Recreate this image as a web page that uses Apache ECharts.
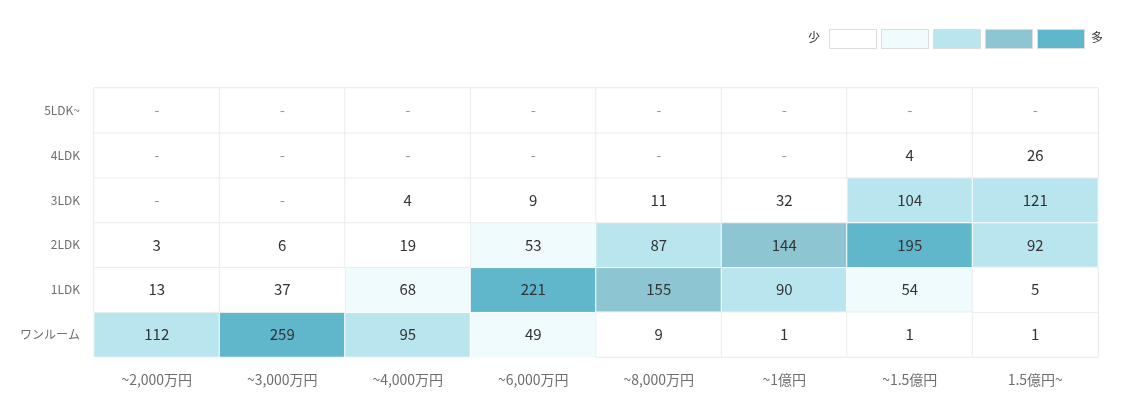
<!DOCTYPE html>
<html><head><meta charset="utf-8">
<script src="https://cdn.jsdelivr.net/npm/echarts@6/dist/echarts.min.js"></script>
<style>html,body{margin:0;padding:0;background:#fff}#c{width:1122px;height:394px}</style>
</head><body><div id="c"></div>
<script>
const xCategories = ['~2,000万円','~3,000万円','~4,000万円','~6,000万円','~8,000万円','~1億円','~1.5億円','1.5億円~'];
const yCategories = ['ワンルーム','1LDK','2LDK','3LDK','4LDK','5LDK~'];
const rowOneRoom = [112, 259, 95, 49, 9, 1, 1, 1];
const row1LDK = [13, 37, 68, 221, 155, 90, 54, 5];
const row2LDK = [3, 6, 19, 53, 87, 144, 195, 92];
const row3LDK = [null, null, 4, 9, 11, 32, 104, 121];
const row4LDK = [null, null, null, null, null, null, 4, 26];
const row5LDK = [null, null, null, null, null, null, null, null];
const rows = [rowOneRoom, row1LDK, row2LDK, row3LDK, row4LDK, row5LDK];
const pieceBreaks = [40, 80, 130, 180];
const pieceColors = ['#ffffff', '#f0fbfd', '#b9e5ef', '#8dc5d3', '#60b6cb'];
const legendLow = '少', legendHigh = '多';

const FONT = 'Noto Sans CJK JP';
const colored = [], plain = [];
rows.forEach((row, yi) => row.forEach((v, xi) => {
  const isPlain = v === null || v < pieceBreaks[0];
  const item = {
    value: [xi, yi, v === null ? 0 : v],
    empty: v === null,
    itemStyle: { borderColor: isPlain ? '#ececec' : '#ffffff', borderWidth: 1 },
    label: { color: v === null ? '#999' : '#333' }
  };
  (isPlain ? plain : colored).push(item);
}));
const data = colored.concat(plain);

const pieces = [
  { lt: pieceBreaks[0], color: pieceColors[0] },
  { gte: pieceBreaks[0], lt: pieceBreaks[1], color: pieceColors[1] },
  { gte: pieceBreaks[1], lt: pieceBreaks[2], color: pieceColors[2] },
  { gte: pieceBreaks[2], lt: pieceBreaks[3], color: pieceColors[3] },
  { gte: pieceBreaks[3], color: pieceColors[4] }
];

const legendGraphics = [];
pieceColors.forEach((c, i) => {
  legendGraphics.push({ type: 'rect', left: 829 + i * 52, top: 29, shape: { width: 47, height: 19 },
    style: { fill: c, stroke: '#dcdcdc', lineWidth: 1 } });
});
legendGraphics.push({ type: 'text', left: 808, top: 31, style: { text: legendLow, font: '12px "' + FONT + '"', fill: '#333' } });
legendGraphics.push({ type: 'text', left: 1091, top: 31, style: { text: legendHigh, font: '12px "' + FONT + '"', fill: '#333' } });

const chart = echarts.init(document.getElementById('c'), null, { renderer: 'canvas' });
chart.setOption({
  animation: false,
  textStyle: { fontFamily: FONT },
  grid: { left: 94, right: 24, top: 88, bottom: 37, show: true, borderColor: '#ececec', borderWidth: 1 },
  xAxis: {
    type: 'category', data: xCategories,
    axisLine: { show: false }, axisTick: { show: false },
    splitLine: { show: true, lineStyle: { color: '#ececec' } },
    axisLabel: { color: '#6e6e6e', fontSize: 14, margin: 16, fontFamily: FONT }
  },
  yAxis: {
    type: 'category', data: yCategories,
    axisLine: { show: false }, axisTick: { show: false },
    splitLine: { show: true, lineStyle: { color: '#ececec' } },
    axisLabel: { color: '#6e6e6e', fontSize: 12, margin: 14, fontFamily: FONT }
  },
  visualMap: { type: 'piecewise', show: false, dimension: 2, seriesIndex: 0, pieces: pieces },
  graphic: legendGraphics,
  series: [{
    type: 'heatmap',
    data: data,
    label: {
      show: true, fontSize: 15, fontFamily: FONT,
      formatter: p => p.data.empty ? '-' : String(p.value[2])
    },
    emphasis: { disabled: true }
  }]
});
</script></body></html>
